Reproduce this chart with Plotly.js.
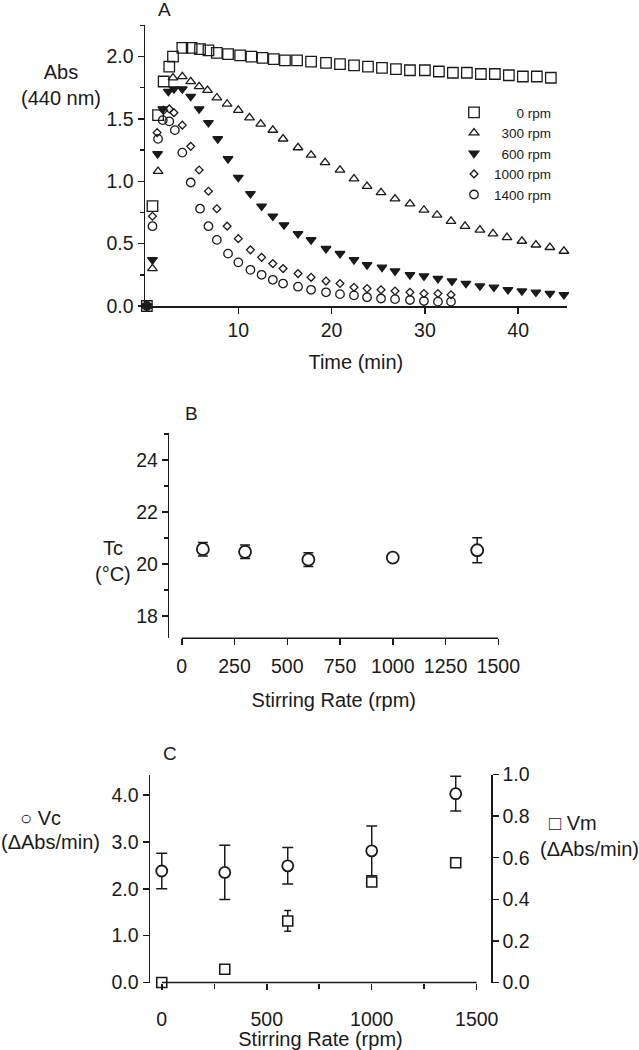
<!DOCTYPE html>
<html><head><meta charset="utf-8">
<script src="https://cdn.plot.ly/plotly-3.0.1.min.js"></script>
<style>html,body{margin:0;padding:0;background:#fff}</style>
</head><body>
<div id="chart" style="width:639px;height:1050px"></div>
<script>
// ---------- Panel A: Abs (440 nm) vs time for each stirring rate ----------
const seriesNames = ["0 rpm", "300 rpm", "600 rpm", "1000 rpm", "1400 rpm"];
const t0    = [0.2, 0.8, 1.4, 2.0, 2.6, 3.0, 4.0, 5.0, 5.9, 6.8, 7.7, 8.9, 10.2, 11.4, 12.6, 13.8, 15.0, 16.3, 17.8, 19.4, 20.9, 22.4, 23.9, 25.4, 26.9, 28.4, 30.0, 31.5, 33.0, 34.5, 36.0, 37.5, 39.0, 40.5, 42.0, 43.5];
const abs0  = [0, 0.80, 1.53, 1.80, 1.92, 2.00, 2.07, 2.07, 2.06, 2.05, 2.03, 2.02, 2.01, 2.00, 1.99, 1.98, 1.97, 1.97, 1.96, 1.95, 1.94, 1.93, 1.92, 1.91, 1.90, 1.89, 1.89, 1.88, 1.87, 1.87, 1.86, 1.86, 1.85, 1.84, 1.84, 1.83];
const t300  = [0.2, 0.8, 1.4, 3.0, 4.0, 4.9, 5.8, 6.7, 7.7, 8.8, 10.0, 11.2, 12.4, 13.7, 14.8, 16.4, 17.8, 19.3, 20.9, 22.4, 23.8, 25.3, 26.8, 28.4, 29.9, 31.3, 32.8, 34.3, 35.9, 37.3, 38.8, 40.4, 41.9, 43.4, 44.9];
const abs300= [0, 0.30, 1.08, 1.83, 1.84, 1.80, 1.76, 1.73, 1.67, 1.62, 1.57, 1.51, 1.46, 1.41, 1.34, 1.27, 1.21, 1.15, 1.09, 1.02, 0.96, 0.91, 0.86, 0.82, 0.77, 0.73, 0.68, 0.64, 0.61, 0.58, 0.55, 0.52, 0.49, 0.47, 0.44];
const t600  = [0.2, 0.8, 1.35, 1.9, 2.5, 3.1, 4.0, 4.9, 5.8, 6.8, 7.8, 8.9, 10.0, 11.3, 12.5, 13.7, 14.9, 16.4, 17.8, 19.4, 20.9, 22.4, 23.8, 25.4, 26.8, 28.4, 29.9, 31.4, 32.9, 34.4, 35.9, 37.4, 38.9, 40.4, 41.9, 43.4, 44.9];
const abs600= [0, 0.37, 1.22, 1.58, 1.72, 1.74, 1.74, 1.68, 1.58, 1.47, 1.34, 1.18, 1.03, 0.90, 0.80, 0.72, 0.65, 0.58, 0.53, 0.46, 0.42, 0.37, 0.33, 0.31, 0.28, 0.25, 0.24, 0.22, 0.20, 0.18, 0.16, 0.15, 0.13, 0.12, 0.11, 0.10, 0.09];
const t1000 = [0.2, 0.8, 1.3, 2.0, 2.6, 3.1, 4.0, 4.9, 5.8, 6.8, 7.7, 8.8, 10.0, 11.3, 12.5, 13.7, 14.8, 16.4, 17.8, 19.4, 20.9, 22.4, 23.8, 25.3, 26.8, 28.4, 29.9, 31.4, 32.8];
const abs1000=[0, 0.72, 1.39, 1.57, 1.58, 1.55, 1.45, 1.28, 1.09, 0.92, 0.78, 0.64, 0.54, 0.45, 0.39, 0.34, 0.30, 0.26, 0.23, 0.20, 0.18, 0.15, 0.14, 0.13, 0.12, 0.11, 0.10, 0.10, 0.09];
const t1400 = [0.2, 0.8, 1.4, 1.9, 2.6, 3.2, 4.0, 4.9, 5.9, 6.8, 7.7, 8.9, 10.0, 11.3, 12.5, 13.7, 14.8, 16.4, 17.8, 19.4, 20.9, 22.4, 23.8, 25.3, 26.8, 28.4, 29.9, 31.4, 32.8];
const abs1400=[0, 0.64, 1.34, 1.49, 1.48, 1.41, 1.23, 0.99, 0.78, 0.64, 0.53, 0.42, 0.35, 0.29, 0.25, 0.21, 0.18, 0.155, 0.13, 0.11, 0.095, 0.085, 0.07, 0.06, 0.055, 0.048, 0.04, 0.035, 0.035];

// ---------- Panel B: Tc vs stirring rate ----------
const rpmB  = [100, 300, 600, 1000, 1400];
const tc    = [20.57, 20.47, 20.17, 20.25, 20.53];
const tcErr = [0.26, 0.26, 0.26, 0, 0.48];

// ---------- Panel C: Vc and Vm vs stirring rate ----------
const rpmC  = [0, 300, 600, 1000, 1400];
const vc    = [2.38, 2.35, 2.49, 2.81, 4.03];
const vcErr = [0.38, 0.58, 0.39, 0.53, 0.37];
const vm    = [0.0, 0.064, 0.296, 0.483, 0.576];
const vmErr = [0, 0, 0.05, 0.02, 0];

// ---------- layout helpers ----------
const W = 639, H = 1050;
const px = v => v / W;
const py = v => 1 - v / H;
const FONT = "Liberation Sans, Arial, Helvetica, sans-serif";
const INK = "#1a1a1a";
const TICK = 19.5, TITLE = 20;

// right-align legend labels with figure spaces
const maxLen = Math.max(...seriesNames.map(s => s.length));
const legendName = s => "\u2007".repeat(maxLen - s.length) + s;

const axBase = {
  showline: true, linecolor: INK, linewidth: 1.5,
  ticks: "outside", tickcolor: INK, tickwidth: 1.5, ticklen: 6,
  showgrid: false, zeroline: false, fixedrange: true,
  tickfont: { family: FONT, size: TICK, color: INK }
};
const minorTicks = (d) => ({ dtick: d, tick0: 0, ticks: "outside", ticklen: 3.5, tickwidth: 1.5, tickcolor: INK, showgrid: false });

const specA = [
  { x: t0, y: abs0, symbol: "square-open", size: 10.5 },
  { x: t300, y: abs300, symbol: "triangle-up-open", size: 8.5 },
  { x: t600, y: abs600, symbol: "triangle-down", size: 8.5 },
  { x: t1000, y: abs1000, symbol: "diamond-open", size: 6 },
  { x: t1400, y: abs1400, symbol: "circle-open", size: 8.5 }
];
const traces = specA.map((s, i) => ({
  type: "scatter", mode: "markers", x: s.x, y: s.y, xaxis: "x", yaxis: "y",
  name: legendName(seriesNames[i]), cliponaxis: false,
  marker: { symbol: s.symbol, size: s.size, color: INK, line: { width: 1.3, color: INK } }
}));

traces.push({
  type: "scatter", mode: "markers", x: rpmB, y: tc, xaxis: "x2", yaxis: "y2",
  showlegend: false, cliponaxis: false, name: "Tc",
  marker: { symbol: "circle", size: 12, color: "#fff", line: { width: 1.8, color: INK } },
  error_y: { type: "data", array: tcErr, visible: true, width: 5, thickness: 1.5, color: INK }
});
traces.push({
  type: "scatter", mode: "markers", x: rpmC, y: vc, xaxis: "x3", yaxis: "y3",
  showlegend: false, cliponaxis: false, name: "Vc",
  marker: { symbol: "circle", size: 11, color: "#fff", line: { width: 1.8, color: INK } },
  error_y: { type: "data", array: vcErr, visible: true, width: 5.5, thickness: 1.5, color: INK }
});
traces.push({
  type: "scatter", mode: "markers", x: rpmC, y: vm, xaxis: "x3", yaxis: "y4",
  showlegend: false, cliponaxis: false, name: "Vm",
  marker: { symbol: "square", size: 10, color: "#fff", line: { width: 1.6, color: INK } },
  error_y: { type: "data", array: vmErr, visible: true, width: 3.5, thickness: 1.5, color: INK }
});

const ann = (text, x, y, size, extra) => Object.assign({
  text, x: px(x), y: py(y), xref: "paper", yref: "paper",
  xanchor: "center", yanchor: "middle", showarrow: false,
  font: { family: FONT, size, color: INK }
}, extra || {});

const layout = {
  width: W, height: H, margin: { l: 0, r: 0, t: 0, b: 0 },
  paper_bgcolor: "#fff", plot_bgcolor: "rgba(0,0,0,0)",
  font: { family: FONT, color: INK },
  showlegend: true,
  legend: {
    x: px(454), y: py(97), xanchor: "left", yanchor: "top",
    bgcolor: "rgba(0,0,0,0)", borderwidth: 0, tracegroupgap: 0,
    font: { family: FONT, size: 13.5, color: INK }
  },
  xaxis: Object.assign({}, axBase, {
    domain: [px(145), px(566.7)], range: [0, 45.2], anchor: "y",
    tickmode: "array", tickvals: [10, 20, 30, 40],
    title: { text: "Time (min)", font: { family: FONT, size: TITLE, color: INK }, standoff: 15 }
  }),
  yaxis: Object.assign({}, axBase, {
    domain: [py(306), py(25)], range: [0, 2.253], anchor: "x",
    tickmode: "linear", tick0: 0, dtick: 0.5, tickformat: ".1f",
    minor: minorTicks(0.25)
  }),
  xaxis2: Object.assign({}, axBase, {
    domain: [px(169.3), px(498.3)], range: [-59, 1500], anchor: "y2", showline: false,
    tickmode: "linear", tick0: 0, dtick: 250, ticklabelstandoff: 4,
    title: { text: "Stirring Rate (rpm)", font: { family: FONT, size: TITLE, color: INK }, standoff: 17 }
  }),
  yaxis2: Object.assign({}, axBase, {
    domain: [py(638.3), py(433.3)], range: [17.15, 25.02], anchor: "x2",
    tickmode: "linear", tick0: 0, dtick: 2, minor: minorTicks(1)
  }),
  xaxis3: Object.assign({}, axBase, {
    domain: [px(150), px(491)], range: [-56, 1568], anchor: "y3", showline: false,
    tickmode: "linear", tick0: 0, dtick: 500, ticklabelstandoff: 13,
    minor: Object.assign(minorTicks(250), { ticklen: 5 }),
    title: { text: "Stirring Rate (rpm)", font: { family: FONT, size: TITLE, color: INK }, standoff: 5 }
  }),
  yaxis3: Object.assign({}, axBase, {
    domain: [py(982.5), py(774.5)], range: [0, 4.44], anchor: "x3",
    tickmode: "linear", tick0: 0, dtick: 1, tickformat: ".1f"
  }),
  yaxis4: Object.assign({}, axBase, {
    overlaying: "y3", side: "right", anchor: "x3", range: [0, 1.0],
    tickmode: "linear", tick0: 0, dtick: 0.2, tickformat: ".1f"
  }),
  shapes: [
    { type: "line", xref: "x2", yref: "y2 domain", x0: 0, x1: 1500, y0: 0, y1: 0, line: { color: INK, width: 1.5 } },
    { type: "line", xref: "x3", yref: "y3 domain", x0: 0, x1: 1500, y0: 0, y1: 0, line: { color: INK, width: 1.5 } }
  ],
  annotations: [
    ann("A", 164, 10, 19),
    ann("Abs<br>(440 nm)", 61, 85, TITLE),
    ann("B", 191.7, 413, 19),
    ann("Tc<br>(°C)", 113, 561, TITLE),
    ann("C", 170, 753, 19),
    ann("○ Vc", 40, 818, TITLE),
    ann("(ΔAbs/min)", 50, 842, TITLE),
    ann("□ Vm", 573, 823, TITLE),
    ann("(ΔAbs/min)", 589, 849, TITLE)
  ]
};

Plotly.newPlot("chart", traces, layout, { staticPlot: true, displayModeBar: false });
</script>
</body></html>
